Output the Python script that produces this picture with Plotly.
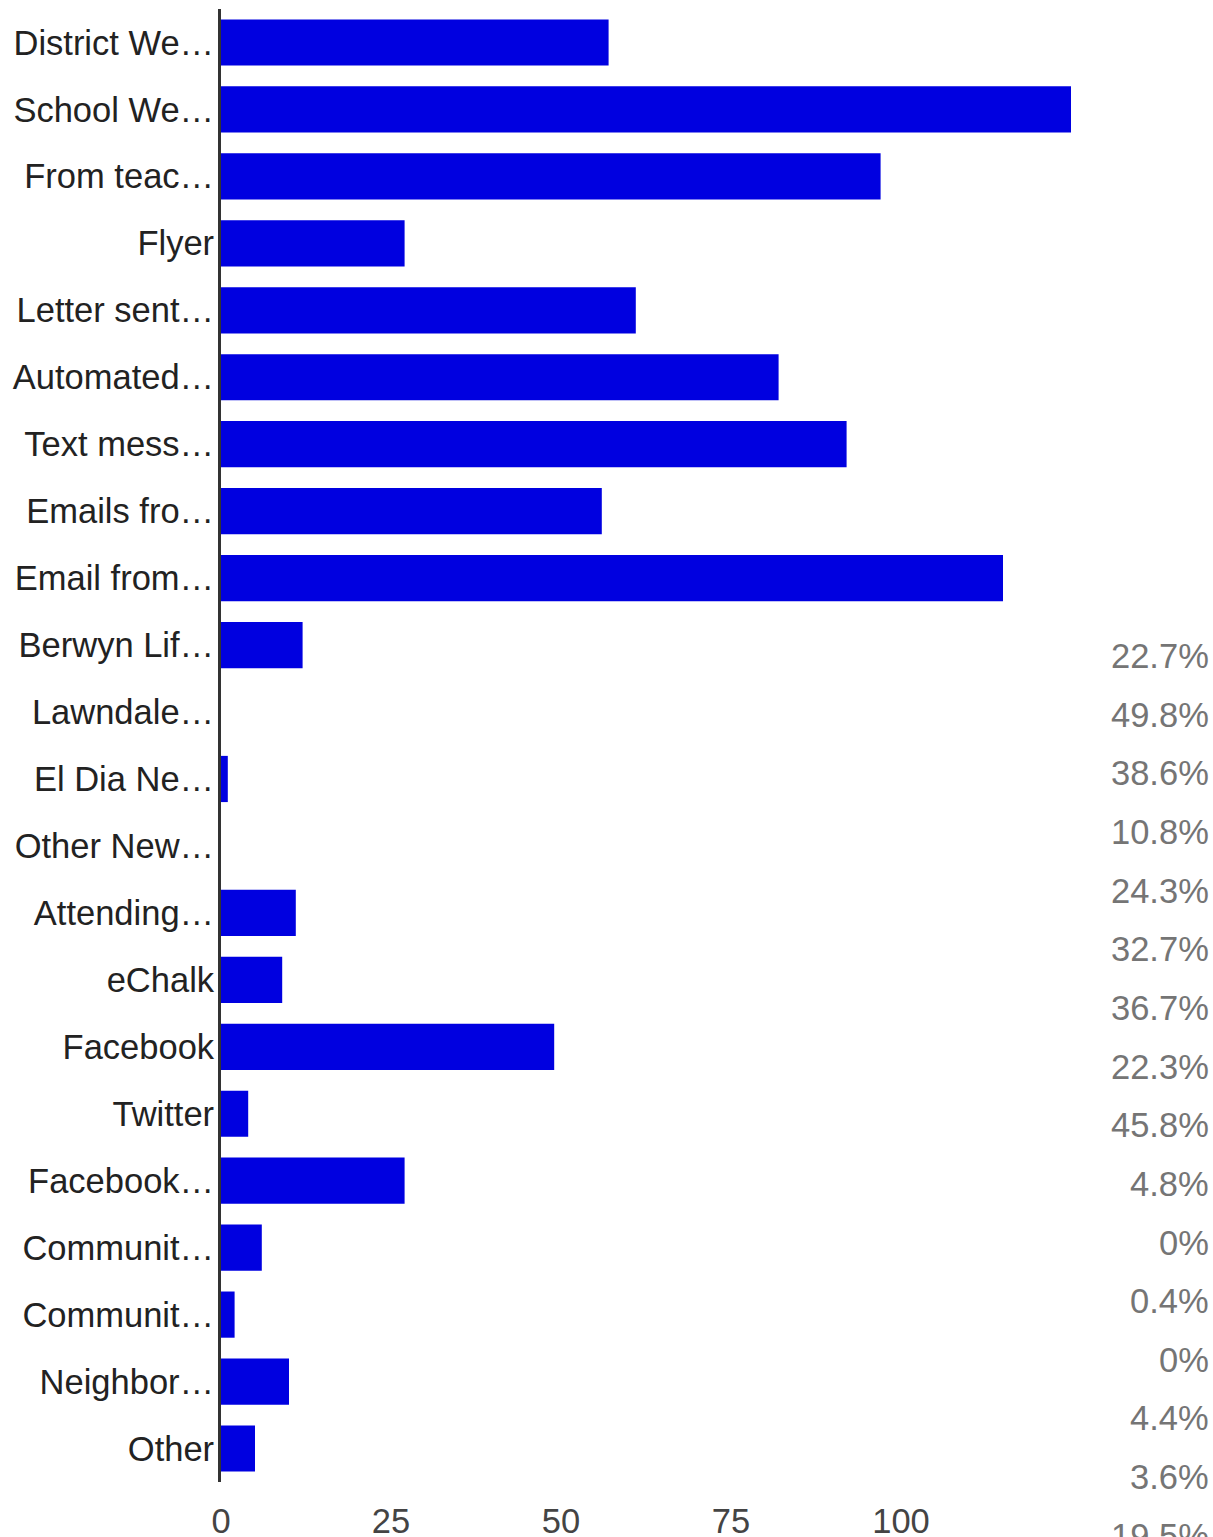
import plotly.graph_objects as go

categories = [
    "District We…", "School We…", "From teac…", "Flyer", "Letter sent…",
    "Automated…", "Text mess…", "Emails fro…", "Email from…", "Berwyn Lif…",
    "Lawndale…", "El Dia Ne…", "Other New…", "Attending…", "eChalk",
    "Facebook", "Twitter", "Facebook…", "Communit…", "Communit…",
    "Neighbor…", "Other",
]
counts = [57, 125, 97, 27, 61, 82, 92, 56, 115, 12, 0, 1, 0, 11, 9, 49, 4, 27, 6, 2, 10, 5]
percent_labels = [
    "22.7%", "49.8%", "38.6%", "10.8%", "24.3%", "32.7%", "36.7%", "22.3%",
    "45.8%", "4.8%", "0%", "0.4%", "0%", "4.4%", "3.6%", "19.5%",
]
x_ticks = [0, 25, 50, 75, 100]

W, H = 1213, 1537
M_L, M_R, M_T, M_B = 221, 142, 9, 55
plot_h = H - M_T - M_B
plot_w = W - M_L - M_R
FONT = "Liberation Sans, Arial, sans-serif"
FS = 34.5

# unique y keys (two "Communit…" labels)
ykeys = [f"{i}" for i in range(len(categories))]

fig = go.Figure(go.Bar(
    x=counts,
    y=ykeys,
    orientation="h",
    marker=dict(color="#0000e0", line=dict(width=0)),
    hoverinfo="skip",
))

annotations = []
for i, t in enumerate(percent_labels):
    ypx = 656 + i * 58.65
    annotations.append(dict(
        x=(1211 - M_L) / plot_w, xref="paper",
        y=(H - M_B - ypx) / plot_h, yref="paper",
        text=t, showarrow=False, xanchor="right", yanchor="middle",
        font=dict(family=FONT, size=FS, color="#757575"),
    ))

fig.update_layout(
    width=W, height=H,
    margin=dict(l=M_L, r=M_R, t=M_T, b=M_B, autoexpand=False),
    plot_bgcolor="white", paper_bgcolor="white",
    bargap=0.31,
    showlegend=False,
    font=dict(family=FONT, size=FS, color="#222222"),
    xaxis=dict(
        range=[0, 125], tickvals=x_ticks, ticktext=[str(v) for v in x_ticks],
        showgrid=False, zeroline=False, showline=False, ticks="",
        tickfont=dict(family=FONT, size=FS, color="#444444"),
        ticklabelstandoff=15,
    ),
    yaxis=dict(
        type="category", categoryorder="array", categoryarray=ykeys,
        autorange="reversed",
        tickvals=ykeys, ticktext=categories,
        showgrid=False, zeroline=False, showline=True,
        linecolor="#333333", linewidth=3, ticks="",
        tickfont=dict(family=FONT, size=FS, color="#222222"),
        ticklabelstandoff=-3,
    ),
    annotations=annotations,
)

fig.write_html(
    "out.html",
    config={"displayModeBar": False},
    post_script="document.body.style.margin='0';document.body.style.overflow='hidden';",
)
